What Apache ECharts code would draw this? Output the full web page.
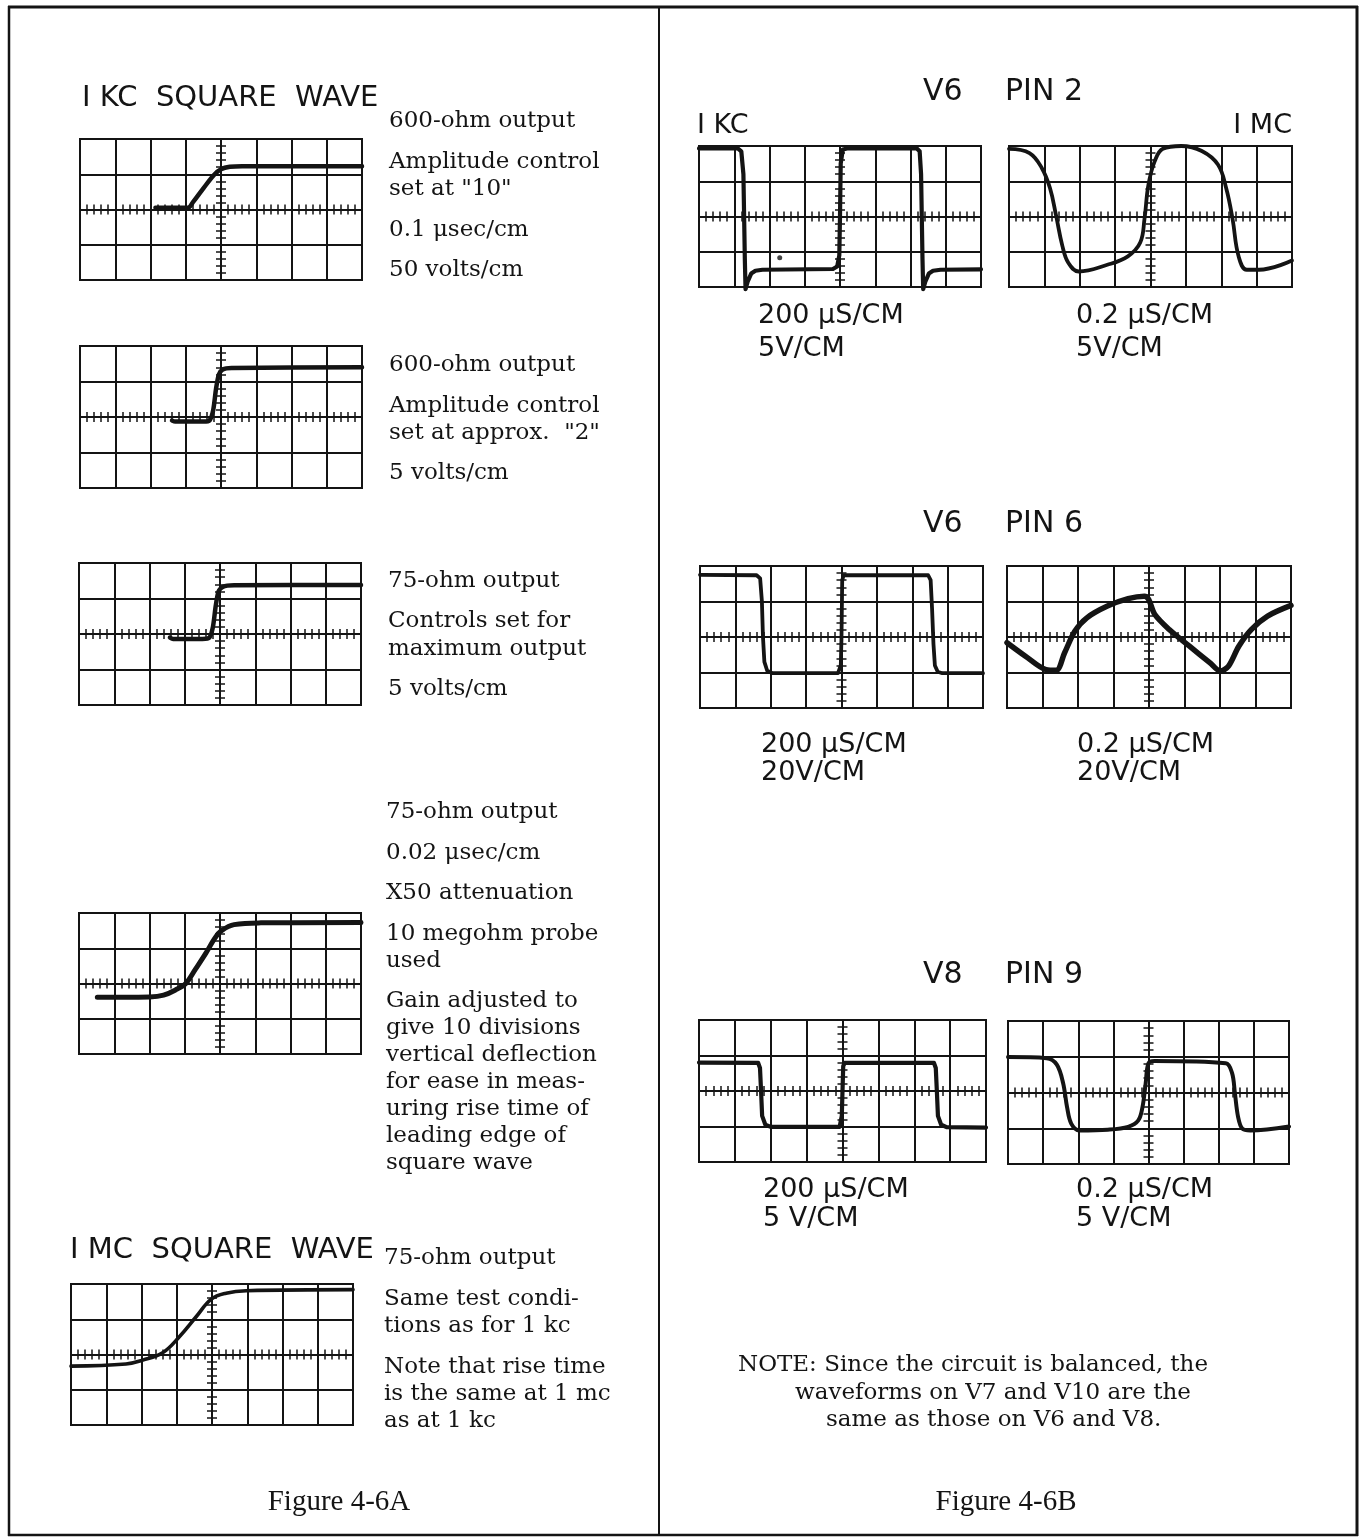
<!DOCTYPE html>
<html>
<head>
<meta charset="utf-8">
<script src="https://cdn.jsdelivr.net/npm/echarts@6/dist/echarts.min.js"></script>
<style>
  html, body { margin: 0; padding: 0; background: #fff; }
  #c { width: 1364px; height: 1538px; }
</style>
</head>
<body>
<div id="c"></div>
<script>
// Oscilloscope traces, in screen divisions measured from the graticule centre
// (x: -4 .. 4 horizontal divisions, y: -2 .. 2 vertical divisions).

// Figure 4-6A : leading edge of the output square wave
const trace1kcAmp10 = [[-1.86,0.05],[-0.94,0.05],[-0.8,0.2],[-0.5,0.6],[-0.2,0.98],[0.0,1.14],[0.25,1.21],[0.6,1.23],[4,1.23]];
const trace1kcAmp2 = [[-1.39,-0.1],[-1.3,-0.13],[-0.5,-0.13],[-0.32,-0.09],[-0.22,0.2],[-0.14,0.8],[-0.06,1.2],[0.05,1.34],[0.3,1.38],[4,1.4]];
const trace1kcMax75 = [[-1.42,-0.1],[-1.33,-0.14],[-0.5,-0.14],[-0.3,-0.1],[-0.2,0.2],[-0.12,0.8],[-0.04,1.2],[0.08,1.33],[0.4,1.37],[4,1.38]];
const trace1kcProbe = [[-3.48,-0.39],[-2.0,-0.38],[-1.6,-0.33],[-1.2,-0.15],[-0.97,0.0],[-0.7,0.4],[-0.4,0.86],[-0.15,1.28],[0.02,1.48],[0.4,1.67],[1.16,1.72],[4,1.73]];
const trace1mcRise = [[-4,-0.33],[-2.44,-0.27],[-1.96,-0.16],[-1.4,0.05],[-0.92,0.51],[-0.45,1.07],[-0.02,1.57],[0.4,1.74],[0.97,1.81],[4,1.84]];

// Figure 4-6B : V6 pin 2
const traceV6p2Kc = [[-4,1.93],[-2.9,1.93],[-2.8,1.85],[-2.74,1.2],[-2.72,0.0],[-2.7,-1.2],[-2.68,-2.06],[-2.62,-1.85],[-2.52,-1.62],[-2.4,-1.54],[-2.2,-1.51],[-0.2,-1.49],[-0.08,-1.42],[-0.02,-1.1],[0.0,0.0],[0.02,1.5],[0.08,1.9],[0.2,1.93],[2.18,1.93],[2.26,1.85],[2.3,1.2],[2.32,0.0],[2.34,-1.2],[2.36,-2.06],[2.42,-1.85],[2.52,-1.62],[2.64,-1.54],[2.85,-1.51],[4,-1.5]];
const blipV6p2Kc = [[-1.71,-1.17]];
const traceV6p2Mc = [[-4,1.92],[-3.42,1.8],[-3.07,1.37],[-2.84,0.8],[-2.67,0.03],[-2.49,-0.84],[-2.32,-1.32],[-2.03,-1.56],[-1.22,-1.37],[-0.64,-1.13],[-0.29,-0.74],[-0.17,-0.07],[-0.06,0.89],[0.12,1.57],[0.35,1.92],[0.87,2.0],[1.45,1.86],[1.91,1.47],[2.14,0.8],[2.32,-0.07],[2.49,-1.13],[2.72,-1.51],[3.07,-1.51],[4,-1.25]];

// V6 pin 6
const traceV6p6Kc = [[-4,1.75],[-2.4,1.74],[-2.3,1.65],[-2.25,1.0],[-2.22,0.0],[-2.18,-0.7],[-2.1,-0.95],[-1.95,-1.02],[-0.1,-1.02],[-0.02,-0.8],[0.0,0.0],[0.02,1.6],[0.06,1.74],[2.45,1.74],[2.52,1.6],[2.56,0.8],[2.6,-0.2],[2.64,-0.8],[2.72,-0.98],[2.85,-1.02],[4,-1.02]];
const traceV6p6Mc = [[-4,-0.16],[-3.48,-0.54],[-2.9,-0.92],[-2.61,-0.94],[-2.38,-0.45],[-2.09,0.16],[-1.75,0.54],[-1.17,0.87],[-0.59,1.08],[-0.13,1.15],[-0.01,1.06],[0.16,0.64],[0.57,0.21],[1.14,-0.26],[1.72,-0.73],[2.01,-0.96],[2.24,-0.82],[2.53,-0.26],[2.88,0.21],[3.34,0.59],[4,0.89]];

// V8 pin 9
const traceV8p9Kc = [[-4,0.8],[-2.35,0.79],[-2.3,0.65],[-2.27,0.0],[-2.24,-0.7],[-2.15,-0.95],[-2.0,-1.01],[-0.08,-1.01],[-0.02,-0.7],[0.0,0.0],[0.02,0.7],[0.06,0.79],[2.55,0.79],[2.6,0.65],[2.63,0.0],[2.66,-0.7],[2.75,-0.95],[2.9,-1.02],[4,-1.03]];
const traceV8p9Mc = [[-4,0.99],[-2.9,0.96],[-2.61,0.78],[-2.43,0.26],[-2.32,-0.4],[-2.2,-0.87],[-1.97,-1.06],[-1.16,-1.04],[-0.58,-0.96],[-0.29,-0.78],[-0.17,-0.4],[-0.08,0.26],[0.0,0.82],[0.17,0.88],[2.2,0.82],[2.38,0.54],[2.46,-0.02],[2.55,-0.68],[2.67,-1.01],[2.9,-1.06],[4,-0.95]];

// Captions
const captionsA = [
  ['600-ohm output', 'Amplitude control', 'set at "10"', '0.1 μsec/cm', '50 volts/cm'],
  ['600-ohm output', 'Amplitude control', 'set at approx.  "2"', '5 volts/cm'],
  ['75-ohm output', 'Controls set for', 'maximum output', '5 volts/cm'],
  ['75-ohm output', '0.02 μsec/cm', 'X50 attenuation', '10 megohm probe', 'used', 'Gain adjusted to', 'give 10 divisions', 'vertical deflection', 'for ease in meas-', 'uring rise time of', 'leading edge of', 'square wave'],
  ['75-ohm output', 'Same test condi-', 'tions as for 1 kc', 'Note that rise time', 'is the same at 1 mc', 'as at 1 kc']
];
const headingsA = ['I KC  SQUARE  WAVE', 'I MC  SQUARE  WAVE'];
const headingsB = [['V6', 'PIN 2'], ['V6', 'PIN 6'], ['V8', 'PIN 9']];
const rangeLabels = ['I KC', 'I MC'];
const settingsB = [
  ['200 μS/CM', '5V/CM', '0.2 μS/CM', '5V/CM'],
  ['200 μS/CM', '20V/CM', '0.2 μS/CM', '20V/CM'],
  ['200 μS/CM', '5 V/CM', '0.2 μS/CM', '5 V/CM']
];
const noteLines = ['NOTE: Since the circuit is balanced, the', 'waveforms on V7 and V10 are the', 'same as those on V6 and V8.'];
const figureLabels = ['Figure 4-6A', 'Figure 4-6B'];

// ---- layout ----
const INK = '#141414';
const SERIF = '"DejaVu Serif", "Liberation Serif", serif';
const SANS = '"DejaVu Sans", "Liberation Sans", sans-serif';

// smooth: false for square edges, a tension value for rounded traces
const screens = [
  { rect: [80, 139, 282, 141], trace: trace1kcAmp10, w: 4.5, smooth: 0.35 },
  { rect: [80, 346, 282, 142], trace: trace1kcAmp2, w: 4.5, smooth: 0.25 },
  { rect: [79, 563, 282, 142], trace: trace1kcMax75, w: 4.5, smooth: 0.25 },
  { rect: [79, 913, 282, 141], trace: trace1kcProbe, w: 5, smooth: 0.4 },
  { rect: [71, 1284, 282, 141], trace: trace1mcRise, w: 3.6, smooth: 0.4 },
  { rect: [699, 146, 282, 141], trace: traceV6p2Kc, w: 4.2, smooth: false, blip: blipV6p2Kc },
  { rect: [1009, 146, 283, 141], trace: traceV6p2Mc, w: 3.8, smooth: 0.4 },
  { rect: [700, 566, 283, 142], trace: traceV6p6Kc, w: 3.8, smooth: false },
  { rect: [1007, 566, 284, 142], trace: traceV6p6Mc, w: 5.5, smooth: 0.3 },
  { rect: [699, 1020, 287, 142], trace: traceV8p9Kc, w: 4.2, smooth: false },
  { rect: [1008, 1021, 281, 143], trace: traceV8p9Mc, w: 4, smooth: 0.35 }
];

const grid = [], xAxis = [], yAxis = [], series = [];

function scaleAxis(gridIndex, pos, lim, withSplit, otherIndex) {
  return {
    gridIndex, type: 'value', position: pos, min: -lim, max: lim, interval: 1,
    axisLine: { show: true, onZero: true, onZeroAxisIndex: otherIndex, lineStyle: { color: INK, width: 2 } },
    axisTick: { show: true, length: 5, lineStyle: { color: INK, width: 1.5 } },
    minorTick: { show: true, splitNumber: 5, length: 5, lineStyle: { color: INK, width: 1.5 } },
    axisLabel: { show: false },
    splitLine: { show: withSplit, lineStyle: { color: INK, width: 2 } },
    minorSplitLine: { show: false },
    silent: true
  };
}

screens.forEach((s, i) => {
  grid.push({
    left: s.rect[0], top: s.rect[1], width: s.rect[2], height: s.rect[3],
    show: true, borderColor: INK, borderWidth: 2, backgroundColor: 'transparent'
  });
  const xi = xAxis.length, yi = yAxis.length;
  xAxis.push(scaleAxis(i, 'bottom', 4, true, yi));
  xAxis.push(scaleAxis(i, 'top', 4, false, yi));
  yAxis.push(scaleAxis(i, 'left', 2, true, xi));
  yAxis.push(scaleAxis(i, 'right', 2, false, xi));
  series.push({
    type: 'line', xAxisIndex: xi, yAxisIndex: yi, data: s.trace,
    showSymbol: false, symbol: 'none', smooth: s.smooth, clip: false,
    lineStyle: { color: INK, width: s.w, cap: 'round', join: 'round' },
    silent: true, z: 5
  });
  if (s.blip) {
    series.push({
      type: 'scatter', xAxisIndex: xi, yAxisIndex: yi, data: s.blip,
      symbol: 'circle', symbolSize: 5, itemStyle: { color: INK }, silent: true, z: 6
    });
  }
});

// ---- text ----
const graphic = [];
function txt(str, x, y, font, align) {
  graphic.push({
    type: 'text', silent: true, z: 10,
    style: {
      text: str, x, y, font, fill: INK,
      textAlign: align || 'left', textVerticalAlign: 'middle',
      align: align || 'left', verticalAlign: 'middle'
    }
  });
}
const serifBody = '23px ' + SERIF;
const sansHead = '29px ' + SANS;
const sansLab = '27px ' + SANS;

txt(headingsA[0], 82, 98, sansHead);
txt(headingsA[1], 70, 1250, sansHead);

const captionX = [389, 389, 388, 386, 384];
const captionY = [
  [121, 162, 189, 230, 270],
  [365, 406, 433, 473],
  [581, 621, 649, 689],
  [812, 853, 893, 934, 961, 1001, 1028, 1055, 1082, 1109, 1136, 1163],
  [1258, 1299, 1326, 1367, 1394, 1421]
];
captionsA.forEach((lines, k) => lines.forEach((ln, j) => txt(ln, captionX[k], captionY[k][j], serifBody)));

const headY = [92, 524, 975];
headingsB.forEach((h, k) => {
  txt(h[0], 923, headY[k], '30px ' + SANS);
  txt(h[1], 1005, headY[k], '30px ' + SANS);
});
txt(rangeLabels[0], 697, 126, '27px ' + SANS);
txt(rangeLabels[1], 1292, 126, '27px ' + SANS, 'right');

const setX = [[758, 1076], [761, 1077], [763, 1076]];
const setY = [[316, 349], [745, 773], [1190, 1219]];
settingsB.forEach((s, k) => {
  txt(s[0], setX[k][0], setY[k][0], sansLab);
  txt(s[1], setX[k][0], setY[k][1], sansLab);
  txt(s[2], setX[k][1], setY[k][0], sansLab);
  txt(s[3], setX[k][1], setY[k][1], sansLab);
});

txt(noteLines[0], 738, 1365, serifBody);
txt(noteLines[1], 795, 1393, serifBody);
txt(noteLines[2], 826, 1420, serifBody);

txt(figureLabels[0], 339, 1502, '29px "Liberation Serif", serif', 'center');
txt(figureLabels[1], 1006, 1502, '29px "Liberation Serif", serif', 'center');

// page frame and the divider between the two figures
function rule(x1, y1, x2, y2, w) {
  graphic.push({ type: 'line', silent: true, z: 1, shape: { x1, y1, x2, y2 }, style: { stroke: INK, lineWidth: w } });
}
rule(8, 7, 1358, 7, 3);
rule(9, 6, 9, 1536, 2.5);
rule(1357, 6, 1357, 1536, 3);
rule(8, 1535, 1358, 1535, 2.5);
rule(659, 6, 659, 1536, 2);

const chart = echarts.init(document.getElementById('c'), null, { renderer: 'canvas' });
chart.setOption({
  animation: false,
  backgroundColor: '#fff',
  grid, xAxis, yAxis, series, graphic
});
</script>
</body>
</html>
